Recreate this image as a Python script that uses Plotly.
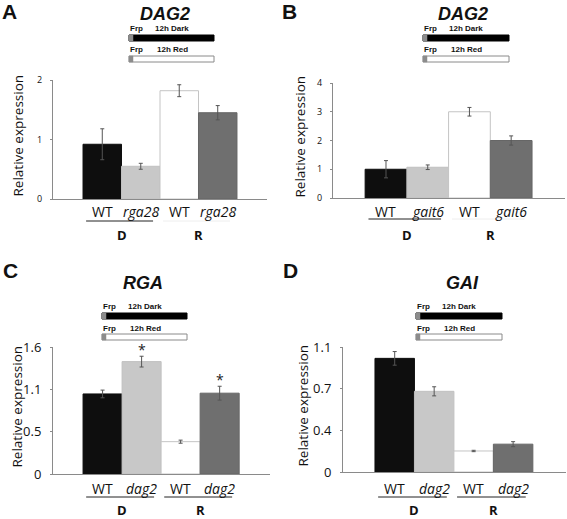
import plotly.graph_objects as go

W, H = 567, 519

# ---------------- data ----------------
genotypes_A = ["WT", "rga28", "WT", "rga28"]
values_A = [0.92, 0.55, 1.82, 1.45]
errors_A = [0.26, 0.05, 0.10, 0.12]

genotypes_B = ["WT", "gait6", "WT", "gait6"]
values_B = [1.00, 1.07, 3.00, 2.00]
errors_B = [0.30, 0.08, 0.15, 0.16]

genotypes_C = ["WT", "dag2", "WT", "dag2"]
values_C = [1.04, 1.46, 0.42, 1.05]
errors_C = [0.05, 0.07, 0.02, 0.09]

genotypes_D = ["WT", "dag2", "WT", "dag2"]
values_D = [1.00, 0.71, 0.185, 0.245]
errors_D = [0.06, 0.04, 0.006, 0.022]

groups = ["D", "R"]
titles = ["DAG2", "DAG2", "RGA", "GAI"]
letters = ["A", "B", "C", "D"]

ticks_A = [0, 1, 2]
ticks_B = [0, 1, 2, 3, 4]
ticks_C_vals = [0, 0.55, 1.1, 1.65]
ticks_C_text = ["0", "0.5", "1.1", "1.6"]
ticks_D_vals = [0, 1.1 / 3, 2.2 / 3, 1.1]
ticks_D_text = ["0", "0.4", "0.7", "1.1"]

bar_colors = ["#0e0e0e", "#c8c8c8", "#ffffff", "#6f6f6f"]
bar_lines = ["#0e0e0e", "#c0c0c0", "#c4c4c4", "#666666"]

FONT = "Open Sans"


def px(x):
    return x / W


def py(y):
    return 1 - y / H


# panel geometry (pixels)
panels = [
    dict(gen=genotypes_A, val=values_A, err=errors_A, x0=53, x1=267, ybot=199, ytop=80,
         yrange=[0, 2], tv=ticks_A, tt=[str(t) for t in ticks_A], tfs=9, xr=[-1.28, 4.28],
         lab_y=212, line_y=221, grp_y=235, ytitle_x=17, title_x=165, title_y=14, letter_x=9,
         letter_y=12, dg_x0=129, dg_x1=214, dg_y=35, r_line_faint=True, stars=[]),
    dict(gen=genotypes_B, val=values_B, err=errors_B, x0=333, x1=565, ybot=198, ytop=83,
         yrange=[0, 4], tv=ticks_B, tt=[str(t) for t in ticks_B], tfs=9, xr=[-1.27, 4.29],
         lab_y=212, line_y=219, grp_y=235, ytitle_x=299, title_x=463, title_y=14, letter_x=289,
         letter_y=12, dg_x0=423, dg_x1=509, dg_y=35, r_line_faint=True, stars=[]),
    dict(gen=genotypes_C, val=values_C, err=errors_C, x0=53, x1=270, ybot=474, ytop=347,
         yrange=[0, 1.65], tv=ticks_C_vals, tt=ticks_C_text, tfs=13, xr=[-1.27, 4.29],
         lab_y=488, line_y=497, grp_y=510, ytitle_x=16, title_x=143, title_y=283, letter_x=10,
         letter_y=270, dg_x0=102, dg_x1=187, dg_y=313, r_line_faint=False, stars=[1, 3]),
    dict(gen=genotypes_D, val=values_D, err=errors_D, x0=343, x1=566, ybot=472, ytop=347,
         yrange=[0, 1.1], tv=ticks_D_vals, tt=ticks_D_text, tfs=13, xr=[-1.31, 4.34],
         lab_y=488, line_y=497, grp_y=510, ytitle_x=302, title_x=462, title_y=283, letter_x=290,
         letter_y=270, dg_x0=416, dg_x1=502, dg_y=313, r_line_faint=False, stars=[]),
]

fig = go.Figure()
annotations = []
shapes = []

for i, p in enumerate(panels, start=1):
    xa = "x" if i == 1 else f"x{i}"
    ya = "y" if i == 1 else f"y{i}"
    xkey = "xaxis" if i == 1 else f"xaxis{i}"
    ykey = "yaxis" if i == 1 else f"yaxis{i}"
    xs = list(range(len(p["val"])))
    fig.add_trace(go.Bar(
        x=xs, y=p["val"], width=[1] * len(xs),
        marker=dict(color=bar_colors, line=dict(color=bar_lines, width=1)),
        error_y=dict(type="data", array=p["err"], visible=True, color="#555555", thickness=1, width=2),
        xaxis=xa, yaxis=ya, showlegend=False, hoverinfo="skip",
    ))
    fig.update_layout({
        xkey: dict(domain=[px(p["x0"]), px(p["x1"])], range=p["xr"], anchor=ya,
                   showticklabels=False, ticks="", automargin=False,
                   showline=True, linecolor="#8a8a8a", linewidth=1, showgrid=False, zeroline=False,
                   fixedrange=True),
        ykey: dict(domain=[py(p["ybot"]), py(p["ytop"])], range=p["yrange"], anchor=xa,
                   tickmode="array", tickvals=p["tv"], ticktext=p["tt"], ticks="outside",
                   ticklen=2, tickcolor="#8a8a8a", showline=True, linecolor="#8a8a8a", linewidth=1,
                   showgrid=False, zeroline=False, ticklabelstandoff=6, automargin=False,
                   tickfont=dict(family=FONT, size=p["tfs"], color="#111"), fixedrange=True),
    })
    # genotype labels under bars
    for xi, g in zip(xs, p["gen"]):
        txt = g if g == "WT" else f"<i>{g}</i>"
        annotations.append(dict(text=txt, xref=xa, yref="paper", x=xi, y=py(p["lab_y"]),
                                showarrow=False, xanchor="center", yanchor="middle",
                                font=dict(family=FONT, size=14, color="#111")))
    # y-axis title
    annotations.append(dict(text="Relative expression", xref="paper", yref="paper",
                            x=px(p["ytitle_x"]), y=py((p["ybot"] + p["ytop"]) / 2 - 4), textangle=-90,
                            showarrow=False, font=dict(family=FONT, size=13.5, color="#111"),
                            xanchor="center", yanchor="middle"))
    # title
    annotations.append(dict(text=f"<b><i>{titles[i-1]}</i></b>", xref="paper", yref="paper",
                            x=px(p["title_x"]), y=py(p["title_y"]), showarrow=False,
                            font=dict(family="Liberation Sans", size=18, color="#111"),
                            xanchor="center", yanchor="middle"))
    # letter
    annotations.append(dict(text=f"<b>{letters[i-1]}</b>", xref="paper", yref="paper",
                            x=px(p["letter_x"]), y=py(p["letter_y"]), showarrow=False,
                            font=dict(family="Liberation Sans", size=21, color="#111"),
                            xanchor="center", yanchor="middle"))
    # group labels and underlines
    for gi, g in enumerate(groups):
        cx = 0.5 + 2 * gi
        annotations.append(dict(text=f"<b>{g}</b>", xref=xa, yref="paper", x=cx, y=py(p["grp_y"]),
                                showarrow=False, font=dict(family=FONT, size=13, color="#111"),
                                xanchor="center", yanchor="middle"))
        faint = p["r_line_faint"] and gi == 1
        shapes.append(dict(type="line", xref=xa, yref="paper", x0=cx - 0.92, x1=cx + 0.82,
                           y0=py(p["line_y"]), y1=py(p["line_y"]),
                           line=dict(color="#eeeeee" if faint else "#222222", width=1)))
    # significance stars
    for si in p["stars"]:
        annotations.append(dict(text="*", xref=xa, yref=ya, x=si, y=p["val"][si] + p["err"][si],
                                showarrow=False, yanchor="bottom", yshift=-5,
                                font=dict(family=FONT, size=14, color="#222")))
    # light protocol diagram
    x0, x1, y0 = p["dg_x0"], p["dg_x1"], p["dg_y"]
    for k, (label, fill, border) in enumerate([("12h Dark", "#000000", "#000000"),
                                               ("12h Red", "#ffffff", "#8a8a8a")]):
        yb = y0 + 21 * k
        shapes.append(dict(type="rect", xref="paper", yref="paper", x0=px(x0), x1=px(x1),
                           y0=py(yb + 6), y1=py(yb), fillcolor=fill,
                           line=dict(color=border, width=1)))
        shapes.append(dict(type="rect", xref="paper", yref="paper", x0=px(x0), x1=px(x0 + 4),
                           y0=py(yb + 6), y1=py(yb), fillcolor="#8c8c8c",
                           line=dict(color="#8c8c8c", width=0.5)))
        annotations.append(dict(text="<b>Frp</b>", xref="paper", yref="paper", x=px(x0 - 1),
                                y=py(yb - 6), showarrow=False, xanchor="left", yanchor="middle",
                                font=dict(family="Liberation Sans", size=8, color="#111")))
        annotations.append(dict(text=f"<b>{label}</b>", xref="paper", yref="paper",
                                x=px(x0 + 43), y=py(yb - 6), showarrow=False, xanchor="center",
                                yanchor="middle",
                                font=dict(family="Liberation Sans", size=8, color="#111")))

fig.update_layout(
    template="none",
    width=W, height=H, margin=dict(l=0, r=0, t=0, b=0, pad=0),
    paper_bgcolor="white", plot_bgcolor="white",
    bargap=0, annotations=annotations, shapes=shapes,
)

fig.write_html("out.html", config={"displayModeBar": False, "staticPlot": True},
               post_script="document.body.style.margin='0px';")
